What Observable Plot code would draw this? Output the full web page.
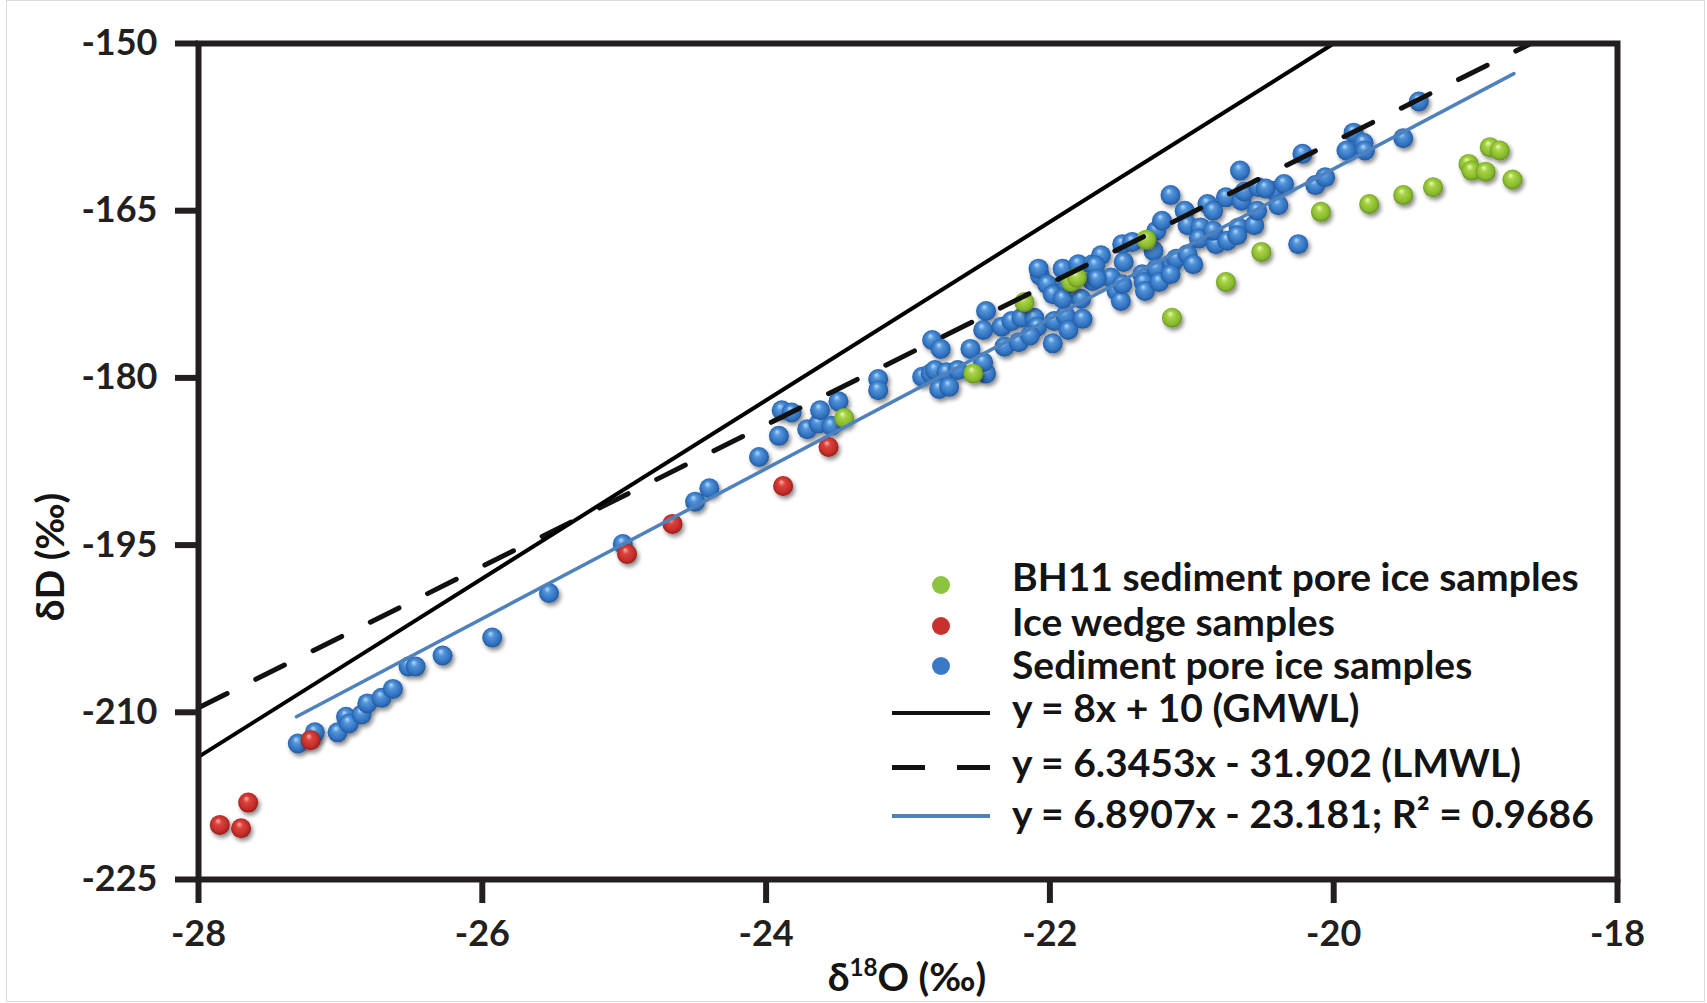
<!DOCTYPE html>
<html><head><meta charset="utf-8">
<script src="https://cdn.jsdelivr.net/npm/d3@7"></script>
<script src="https://cdn.jsdelivr.net/npm/@observablehq/plot@0.6"></script>
<style>
html,body{margin:0;padding:0;background:#fff;}
#wrap{position:relative;width:1707px;height:1003px;overflow:hidden;font-family:Lato,"Open Sans",sans-serif;font-weight:700;color:#141414;}
#border{position:absolute;left:6px;top:0;width:1699px;height:1002px;border:1.5px solid #dadada;box-sizing:border-box;pointer-events:none;}
.txt{position:absolute;white-space:nowrap;line-height:46px;height:46px;}
.sym{position:absolute;}
sup{font-size:0.62em;line-height:0;position:relative;top:-0.05em;vertical-align:super;}
</style></head><body>
<svg width="0" height="0" style="position:absolute">
<defs>
<radialGradient id="gBlue" cx="0.5" cy="0.5" r="0.55" fx="0.4" fy="0.28">
<stop offset="0" stop-color="#b8dbfb"/><stop offset="0.3" stop-color="#5295db"/><stop offset="0.75" stop-color="#2f6fbd"/><stop offset="1" stop-color="#1d4f8f"/>
</radialGradient>
<radialGradient id="gGreen" cx="0.5" cy="0.5" r="0.55" fx="0.4" fy="0.28">
<stop offset="0" stop-color="#eefab8"/><stop offset="0.3" stop-color="#a8d446"/><stop offset="0.75" stop-color="#86b82c"/><stop offset="1" stop-color="#587f17"/>
</radialGradient>
<radialGradient id="gRed" cx="0.5" cy="0.5" r="0.55" fx="0.4" fy="0.28">
<stop offset="0" stop-color="#fbb3ad"/><stop offset="0.3" stop-color="#dc433c"/><stop offset="0.75" stop-color="#c02b27"/><stop offset="1" stop-color="#821714"/>
</radialGradient>
<filter id="ballShadow" x="-20%" y="-20%" width="140%" height="140%">
<feDropShadow dx="2" dy="3" stdDeviation="2" flood-color="#000" flood-opacity="0.45"/>
</filter>
</defs>
</svg>
<div id="wrap"><div id="border"></div></div>
<script>
// ---- data ----
const xTicks = [-28, -26, -24, -22, -20, -18];
const yTicks = [-150, -165, -180, -195, -210, -225];

// Sediment pore ice samples [δ18O, δD]
const porePoints = [
[-27.30,-212.8],[-27.18,-211.8],[-27.02,-211.8],[-26.96,-210.4],[-26.94,-211.0],[-26.85,-210.2],
[-26.81,-209.2],[-26.71,-208.7],[-26.63,-207.9],[-26.52,-205.9],[-26.47,-205.9],[-26.28,-204.9],
[-25.93,-203.3],[-25.53,-199.3],[-25.01,-194.9],[-24.50,-191.1],[-24.40,-189.9],[-24.05,-187.1],
[-23.91,-185.2],[-23.89,-182.9],[-23.82,-183.1],[-23.71,-184.6],[-23.63,-184.1],[-23.62,-182.9],
[-23.49,-182.1],[-23.54,-184.3],[-23.21,-180.1],[-23.21,-181.1],
[-22.90,-179.9],[-22.84,-179.6],[-22.81,-179.3],[-22.73,-179.5],[-22.65,-179.3],[-22.78,-181.0],
[-22.71,-180.8],[-22.83,-176.6],[-22.77,-177.4],
[-22.56,-177.4],[-22.45,-179.6],[-22.47,-178.6],[-22.47,-175.7],[-22.45,-174.0],[-22.34,-175.4],
[-22.32,-177.2],[-22.22,-176.8],[-22.27,-174.9],[-22.20,-174.6],[-22.11,-174.6],[-22.09,-175.4],
[-22.14,-176.2],[-21.98,-176.9],[-21.97,-174.9],[-22.07,-170.8],[-22.08,-170.2],[-22.02,-171.6],
[-21.98,-172.5],[-21.91,-170.2],[-21.88,-171.6],[-21.80,-169.8],[-21.70,-169.8],[-21.70,-171.3],
[-21.78,-172.9],[-21.89,-174.4],[-21.87,-175.7],[-21.77,-174.7],[-21.91,-172.9],[-21.64,-169.0],
[-21.49,-168.0],[-21.57,-171.0],[-21.53,-172.2],[-21.50,-173.1],[-21.49,-171.6],[-21.48,-169.6],
[-21.15,-163.6],[-20.66,-161.4],[-21.68,-169.9],[-21.67,-171.1],[-21.42,-167.8],[-21.35,-170.7],
[-21.34,-171.4],[-21.33,-172.2],[-21.25,-166.8],[-21.27,-168.6],[-21.21,-165.9],[-21.25,-170.2],
[-21.23,-171.4],[-21.14,-169.8],[-21.11,-169.3],[-21.15,-170.7],[-21.05,-165.0],[-21.03,-166.3],
[-21.03,-168.9],[-20.99,-169.8],[-20.94,-166.5],[-20.95,-167.5],[-20.89,-164.4],[-20.85,-165.0],
[-20.83,-168.0],[-20.85,-166.8],[-20.76,-163.8],[-20.75,-167.7],[-20.67,-166.5],[-20.68,-167.2],
[-20.65,-164.1],[-20.63,-163.3],[-20.56,-166.3],[-20.54,-165.0],[-20.53,-162.9],[-20.42,-163.2],
[-20.39,-164.5],[-20.35,-162.6],[-20.22,-159.9],[-19.86,-158.0],[-19.91,-159.6],[-19.79,-158.9],
[-19.78,-159.6],[-19.51,-158.5],[-19.40,-155.2],[-20.13,-162.7],[-20.06,-162.0],[-20.25,-168.0],
[-20.48,-163.0]
];

// Ice wedge samples
const wedgePoints = [
[-27.85,-220.1],[-27.70,-220.4],[-27.65,-218.1],[-27.21,-212.5],
[-24.98,-195.8],[-24.66,-193.1],[-23.88,-189.7],[-23.56,-186.2]
];

// BH11 sediment pore ice samples
const bh11Points = [
[-23.45,-183.6],[-22.54,-179.6],[-22.18,-173.2],[-21.85,-171.4],[-21.81,-171.0],[-21.32,-167.6],
[-21.14,-174.6],[-20.76,-171.4],[-20.51,-168.7],[-20.09,-165.1],[-19.75,-164.4],[-19.51,-163.6],
[-19.30,-162.9],[-19.05,-160.8],[-19.03,-161.4],[-18.93,-161.5],[-18.90,-159.3],[-18.83,-159.6],
[-18.74,-162.2]
];

// line end points (GMWL, LMWL, fitted line)
const gmwlLine = [[-28,-214],[-20,-150]];
const lmwlLine = [[-28,-209.6],[-18.61,-150]];
const fitLine = [[-27.31,-210.4],[-18.73,-152.7]];

const legendLabels = [
"BH11 sediment pore ice samples",
"Ice wedge samples",
"Sediment pore ice samples",
"y = 8x + 10 (GMWL)",
"y = 6.3453x - 31.902 (LMWL)",
"y = 6.8907x - 23.181; R² = 0.9686"
];
const legendKinds = ["dot","dot","dot","solid","dash","fit"];
const legendColors = ["#8cc43f","#c8322e","#3b79c6","#111","#111","#4f81bd"];

// ---- chart ----
const fmt = d => String(d);
const plot = Plot.plot({
  width: 1707, height: 1003,
  marginLeft: 198, marginRight: 90, marginTop: 43, marginBottom: 124,
  x: {domain: [-28, -18]},
  y: {domain: [-225, -150]},
  style: {fontFamily: "Lato, 'Open Sans', sans-serif", fontWeight: 700, color: "#231f20", background: "transparent", overflow: "visible"},
  marks: [
    Plot.dot(porePoints, {x: d => d[0], y: d => d[1], r: 10, fill: "url(#gBlue)"}),
    Plot.dot(wedgePoints, {x: d => d[0], y: d => d[1], r: 10, fill: "url(#gRed)"}),
    Plot.dot(bh11Points, {x: d => d[0], y: d => d[1], r: 10, fill: "url(#gGreen)"}),
    Plot.line(lmwlLine, {x: d => d[0], y: d => d[1], stroke: "#111", strokeWidth: 5, strokeDasharray: "32,32"}),
    Plot.line(gmwlLine, {x: d => d[0], y: d => d[1], stroke: "#000", strokeWidth: 4}),
    Plot.line(fitLine, {x: d => d[0], y: d => d[1], stroke: "#4f81bd", strokeWidth: 3.5}),
    Plot.frame({stroke: "#231f20", strokeWidth: 6}),
    Plot.axisY(yTicks, {anchor: "left", tickSize: 23, tickPadding: 18, strokeWidth: 6, fontSize: 36, tickFormat: fmt, label: null}),
    Plot.axisX(xTicks, {anchor: "bottom", tickSize: 24, tickPadding: 17, strokeWidth: 6, fontSize: 36, tickFormat: fmt, label: null})
  ]
});
plot.style.position = "absolute";
plot.style.left = "0px";
plot.style.top = "0px";
plot.querySelectorAll('g[aria-label="dot"]').forEach(g => g.setAttribute("filter", "url(#ballShadow)"));
const wrap = document.getElementById("wrap");
wrap.appendChild(plot);

// ---- legend (overlay inside plot area) ----
const rowY = [577, 622, 665, 708, 763, 814];
const dotY = [585, 626, 666];
legendLabels.forEach((label, i) => {
  const y = rowY[i];
  const k = legendKinds[i];
  if (k === "dot") {
    const s = document.createElement("div");
    s.className = "sym";
    Object.assign(s.style, {left: "932px", top: (dotY[i] - 9) + "px", width: "18px", height: "18px", borderRadius: "50%", background: legendColors[i]});
    wrap.appendChild(s);
  } else if (k === "dash") {
    [892, 957].forEach(x0 => {
      const s = document.createElement("div");
      s.className = "sym";
      Object.assign(s.style, {left: x0 + "px", top: (767 - 2.5) + "px", width: "33px", height: "5px", background: legendColors[i]});
      wrap.appendChild(s);
    });
  } else {
    const h = k === "fit" ? 3.5 : 4;
    const ly = k === "fit" ? 816 : 713;
    const s = document.createElement("div");
    s.className = "sym";
    Object.assign(s.style, {left: "892px", top: (ly - h / 2) + "px", width: "98px", height: h + "px", background: legendColors[i]});
    wrap.appendChild(s);
  }
  const t = document.createElement("div");
  t.className = "txt";
  t.textContent = label;
  Object.assign(t.style, {left: "1012px", top: (y - 24) + "px", fontSize: "39px"});
  wrap.appendChild(t);
});

// ---- axis titles ----
const xt = document.createElement("div");
xt.className = "txt";
xt.innerHTML = "δ<sup>18</sup>O (‰)";
Object.assign(xt.style, {left: "907px", top: (977 - 24) + "px", fontSize: "39px", transform: "translateX(-50%)"});
wrap.appendChild(xt);

const yt = document.createElement("div");
yt.className = "txt";
yt.textContent = "δD (‰)";
Object.assign(yt.style, {left: "49px", top: "557px", fontSize: "39px", transform: "translate(-50%,-50%) rotate(-90deg)"});
wrap.appendChild(yt);
</script>
</body></html>
